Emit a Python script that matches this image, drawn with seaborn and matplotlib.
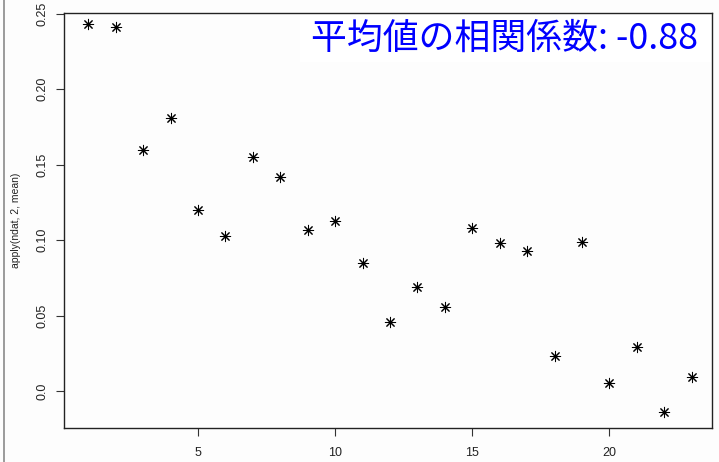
import numpy as np
import pandas as pd
import matplotlib
matplotlib.use("Agg")
import matplotlib.pyplot as plt
from matplotlib.lines import Line2D
from matplotlib.patches import Rectangle
import seaborn as sns

# column index and column means of ndat
col_index = list(range(1, 24))
col_means = [0.243, 0.241, 0.160, 0.181, 0.120, 0.103, 0.155, 0.142, 0.107,
             0.113, 0.085, 0.046, 0.069, 0.056, 0.108, 0.098, 0.093, 0.023,
             0.099, 0.005, 0.029, -0.014, 0.009]
x_ticks = [5, 10, 15, 20]
y_ticks = [0.0, 0.05, 0.10, 0.15, 0.20, 0.25]
y_tick_labels = ["0.0", "0.05", "0.10", "0.15", "0.20", "0.25"]
corr_label = "平均値の相関係数: -0.88"
y_label = "apply(ndat, 2, mean)"

df = pd.DataFrame({"idx": col_index, "mean": col_means})

sns.set_theme(style="white")
plt.rcParams["font.family"] = ["Liberation Sans", "DejaVu Sans"]

fig = plt.figure(figsize=(7.19, 4.62), dpi=100, facecolor="#fdfdfd")
ax = fig.add_axes([64 / 719, 34 / 462, 648 / 719, 415 / 462])
ax.set_facecolor("#fdfdfd")

sns.scatterplot(data=df, x="idx", y="mean", marker=(8, 2, 0), s=55,
                color="black", linewidth=0.75, ax=ax)

ax.set_xlim(0.114, 23.74)
ax.set_ylim(-0.0245, 0.2505)
ax.set_xticks(x_ticks)
ax.set_xticklabels([str(t) for t in x_ticks], fontsize=9, color="#222222")
ax.set_yticks(y_ticks)
ax.set_yticklabels(y_tick_labels, fontsize=9, color="#222222",
                   rotation=90, va="center")
ax.tick_params(axis="both", direction="out", length=5.5, width=0.8,
               color="#333333", left=True, bottom=True)
ax.tick_params(axis="x", pad=8.5)
ax.tick_params(axis="y", pad=6)
ax.set_xlabel("")
ax.set_ylabel(y_label, fontsize=7.5, color="#222222", labelpad=11)
for sp in ax.spines.values():
    sp.set_visible(True)
    sp.set_color("#222222")
    sp.set_linewidth(1.0)

# white panel behind the correlation note
ax.add_patch(Rectangle((0.364, 0.882), 0.634, 0.116, transform=ax.transAxes,
                       facecolor="white", edgecolor="none", zorder=1))
ax.text(0.978, 0.937, corr_label, transform=ax.transAxes, ha="right",
        va="center", fontsize=25.8, color="#0000ff",
        family=["Noto Sans CJK JP", "DejaVu Sans"], zorder=2)

# thin frame line on the left edge of the page
fig.add_artist(Line2D([3.5 / 719, 3.5 / 719], [0, 1], transform=fig.transFigure,
                      color="#8a8a8a", linewidth=1.2))

fig.savefig("out.png", dpi=100, facecolor=fig.get_facecolor())
